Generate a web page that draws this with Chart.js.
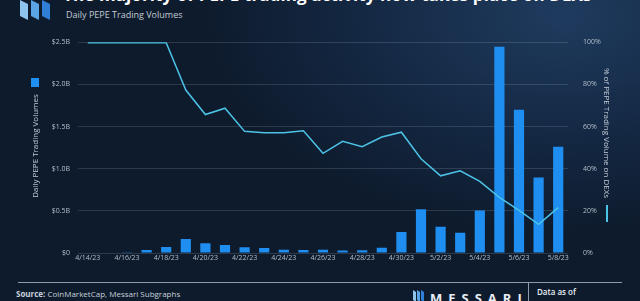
<!DOCTYPE html>
<html lang="en">
<head>
    <meta charset="UTF-8">
    <title>PEPE DEX share</title>
    <script src="https://cdn.jsdelivr.net/npm/chart.js"></script>
    <style>
        html, body { margin: 0; padding: 0; }
        body {
            width: 640px; height: 301px; overflow: hidden; position: relative;
            font-family: "Open Sans", "Noto Sans", sans-serif;
            background: radial-gradient(ellipse 70% 90% at 88% 5%, #1f3b5e 0%, #142843 45%, #0e1b2d 80%);
            color: #fff;
        }
        .abs { position: absolute; white-space: nowrap; }
        #title { left: 63px; top: -17px; font-size: 17px; font-weight: 700; letter-spacing: 0.1px; }
        #subtitle { left: 66px; top: 8px; font-size: 9px; color: #c3cbd6; }
        #wrap { position: absolute; left: 0; top: 30px; width: 640px; height: 240px; }
        .ytitle { font-size: 8px; color: #c3cbd6; transform-origin: center; }
        #ltitle { left: 34px; top: 146px; transform: translate(-50%, -50%) rotate(-90deg); }
        #rtitle { left: 607px; top: 133px; transform: translate(-50%, -50%) rotate(90deg); }
        #lmark { left: 31px; top: 78px; width: 8px; height: 9px; background: #1f8ef1; }
        #rmark { left: 606px; top: 205px; width: 2px; height: 17px; background: #4cc3e6; }
        #rule { left: 18px; top: 282px; width: 604px; height: 1px; background: #8e9bab; }
        #divider { left: 528px; top: 282px; width: 1px; height: 19px; background: #8e9bab; }
        #source { left: 16px; top: 288px; font-size: 8px; color: #c8d0da; }
        #brand { left: 430px; top: 289px; font-size: 13px; font-weight: 700; letter-spacing: 6px; color: #e8eef5; }
        #asof { left: 537px; top: 286px; font-size: 8px; font-weight: 600; color: #e8eef5; }
    </style>
</head>
<body>
    <svg class="abs" style="left:18px;top:-2px" width="36" height="24" viewBox="0 0 36 24">
        <polygon points="2,2 10,6 10,22 2,18" fill="#8fc4ee"/>
        <polygon points="13,2 21,6 21,22 13,18" fill="#5aa4e6"/>
        <polygon points="24,2 32,6 32,22 24,18" fill="#2f7fd6"/>
    </svg>
    <div id="title" class="abs">The majority of PEPE trading activity now takes place on DEXs</div>
    <div id="subtitle" class="abs">Daily PEPE Trading Volumes</div>

    <div id="wrap"><canvas id="dexChart"></canvas></div>

    <div id="lmark" class="abs"></div>
    <div id="ltitle" class="abs ytitle">Daily PEPE Trading Volumes</div>
    <div id="rtitle" class="abs ytitle">% of PEPE Trading Volume on DEXs</div>
    <div id="rmark" class="abs"></div>

    <div id="rule" class="abs"></div>
    <div id="divider" class="abs"></div>
    <div id="source" class="abs"><b>Source:</b> CoinMarketCap, Messari Subgraphs</div>
    <svg class="abs" style="left:412px;top:289px" width="14" height="14" viewBox="0 0 14 14">
        <polygon points="1,1 4,3 4,13 1,11" fill="#8fc4ee"/>
        <polygon points="5,1 8,3 8,13 5,11" fill="#5aa4e6"/>
        <polygon points="9,1 12,3 12,13 9,11" fill="#2f7fd6"/>
    </svg>
    <div id="brand" class="abs">MESSARI</div>
    <div id="asof" class="abs">Data as of</div>

    <script>
        // days shown on the x axis
        const days = [
            "4/14/23", "4/15/23", "4/16/23", "4/17/23", "4/18/23", "4/19/23", "4/20/23",
            "4/21/23", "4/22/23", "4/23/23", "4/24/23", "4/25/23", "4/26/23", "4/27/23",
            "4/28/23", "4/29/23", "4/30/23", "5/1/23", "5/2/23", "5/3/23", "5/4/23",
            "5/5/23", "5/6/23", "5/7/23", "5/8/23"
        ]

        // daily volume, $ billions
        const volumes = [
            0, 0, 0.01, 0.035, 0.07, 0.165, 0.115,
            0.095, 0.067, 0.06, 0.04, 0.035, 0.04, 0.03,
            0.032, 0.062, 0.25, 0.52, 0.31, 0.24, 0.505,
            2.445, 1.70, 0.895, 1.26
        ]

        // share of volume on DEXs, %
        const dexShare = [
            99.7, 99.7, 99.7, 99.7, 99.7, 77.3, 65.7,
            68.7, 57.7, 57, 57, 58, 47.3, 53,
            50.4, 55, 57.3, 44.7, 36.6, 39, 34,
            26.4, 20.2, 13.6, 21.5
        ]

        const leftTicks = { 0: "$0", 0.5: "$0.5B", 1: "$1.0B", 1.5: "$1.5B", 2: "$2.0B", 2.5: "$2.5B" }

        const tickFont = { family: "Open Sans", size: 7 }
        const tickColor = "#b4bec9"

        const ctx = document.getElementById("dexChart")
        const dexChart = new Chart(ctx, {
            type: "bar",
            data: {
                labels: days,
                datasets: [
                    {
                        type: "line",
                        label: "% of PEPE Trading Volume on DEXs",
                        data: dexShare,
                        yAxisID: "y1",
                        borderColor: "#4cc3e6",
                        borderWidth: 1.5,
                        pointRadius: 0,
                        tension: 0,
                        order: 0
                    },
                    {
                        label: "Daily PEPE Trading Volumes",
                        data: volumes,
                        yAxisID: "y",
                        backgroundColor: "#1f8ef1",
                        categoryPercentage: 1,
                        barPercentage: 0.52,
                        order: 1
                    }
                ]
            },
            options: {
                responsive: true,
                maintainAspectRatio: false,
                animation: false,
                layout: { padding: { top: 10, left: 0, right: 0, bottom: 0 } },
                plugins: {
                    legend: { display: false },
                    tooltip: { enabled: false }
                },
                scales: {
                    x: {
                        grid: { display: false, drawTicks: false },
                        border: { display: false },
                        ticks: {
                            autoSkip: false,
                            maxRotation: 0,
                            padding: 1,
                            color: tickColor,
                            font: tickFont,
                            callback: function (value, index) {
                                return index % 2 === 0 ? days[index] : ""
                            }
                        },
                        afterFit: function (scale) { scale.height = 17 }
                    },
                    y: {
                        position: "left",
                        min: 0,
                        max: 2.5,
                        grid: { color: "rgba(200,215,235,0.16)", drawTicks: false },
                        border: { display: false },
                        ticks: {
                            stepSize: 0.5,
                            padding: 8,
                            color: tickColor,
                            font: tickFont,
                            callback: function (value) { return leftTicks[value] }
                        },
                        afterFit: function (scale) { scale.width = 78 }
                    },
                    y1: {
                        position: "right",
                        min: 0,
                        max: 100,
                        grid: { display: false },
                        border: { display: false },
                        ticks: {
                            stepSize: 20,
                            padding: 7,
                            color: tickColor,
                            font: tickFont,
                            callback: function (value) { return value + "%" }
                        },
                        afterFit: function (scale) { scale.width = 72 }
                    }
                }
            }
        })
    </script>
</body>
</html>
